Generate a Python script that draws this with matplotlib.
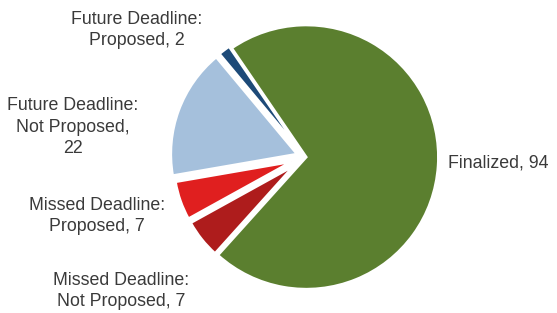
import matplotlib
matplotlib.use("Agg")
import matplotlib.pyplot as plt

labels = ["Finalized, 94", "Future Deadline:\nProposed, 2",
          "Future Deadline:\nNot Proposed,\n22", "Missed Deadline:\nProposed, 7",
          "Missed Deadline:\nNot Proposed, 7"]
values = [94, 2, 22, 7, 7]
colors = ["#5b7f2f", "#1d4a78", "#a5c0dc", "#e01f1f", "#ae1c1c"]

W, H = 557, 313
fig = plt.figure(figsize=(W / 100, H / 100), dpi=100)
ax = fig.add_axes([0, 0, 1, 1])
cx, cy, r = 305, 157, 132

# groups drawn with slightly different radius / explode (as in the original)
groups = [
    ([0], 1.0, [0.01, 0, 0, 0, 0]),
    ([1, 2], 0.955, [0, 0.06, 0.065, 0, 0]),
    ([3, 4], 0.89, [0, 0, 0, 0.11, 0.11]),
]
for idx, rad, expl in groups:
    wedges, _ = ax.pie(values, colors=colors, explode=expl, startangle=228,
                       counterclock=True, radius=rad,
                       wedgeprops=dict(edgecolor="white", linewidth=1.8))
    for i, w in enumerate(wedges):
        if i not in idx:
            w.set_visible(False)

ax.set_xlim(-cx / r, (W - cx) / r)
ax.set_ylim(-(H - cy) / r, cy / r)
ax.set_aspect("equal")
ax.axis("off")

# label positions in pixel coords (x, center y from top), alignment
pos = [(448, 163, "left"), (137, 30, "center"), (73, 127, "center"),
       (97, 216, "center"), (121, 291, "center")]
for lab, (x, y, ha) in zip(labels, pos):
    fig.text(x / W, 1 - y / H, lab, ha=ha, va="center", fontsize=12.8,
             family="Liberation Sans", color="#3a3a3a", linespacing=1.32)

fig.savefig("out.png", dpi=100, facecolor="white")
